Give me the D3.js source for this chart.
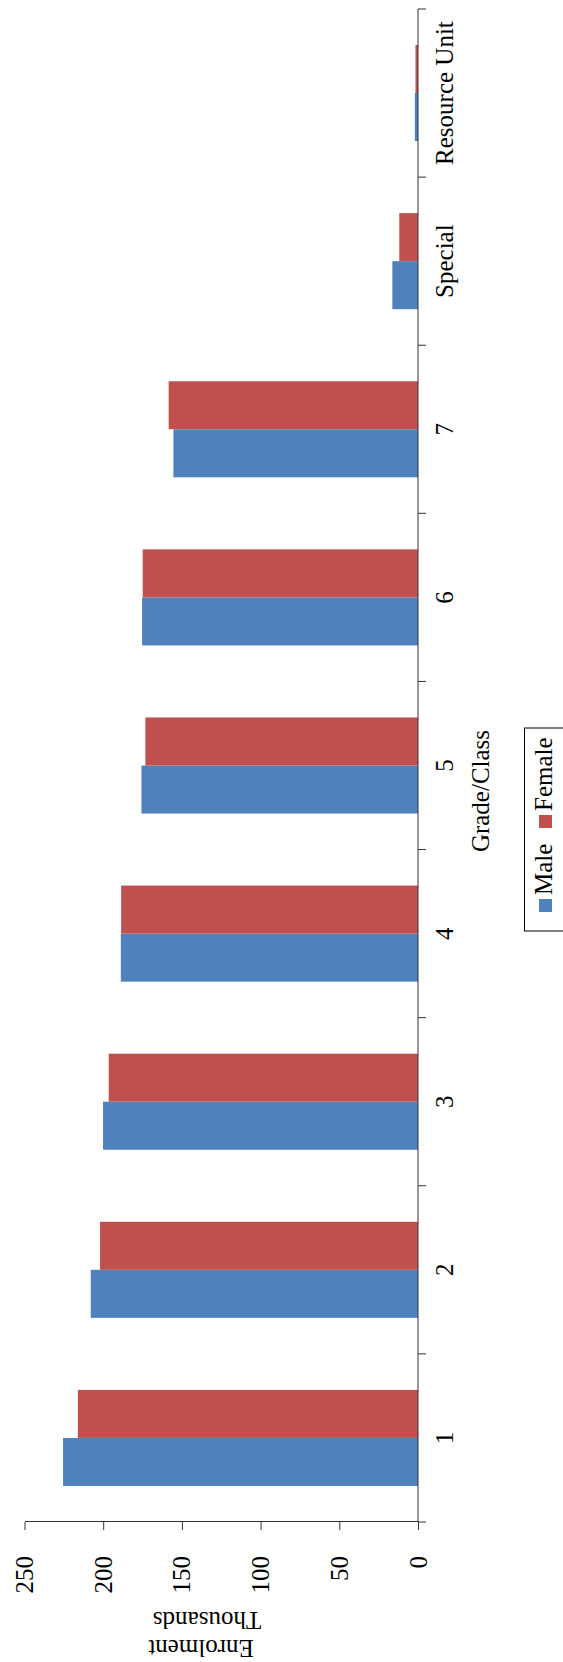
<!DOCTYPE html>
<html><head><meta charset="utf-8">
<script src="https://cdn.jsdelivr.net/npm/d3@7"></script>
<style>body{margin:0;background:#fff}svg{display:block}</style>
</head><body>
<script>
const categories = ["1","2","3","4","5","6","7","Special","Resource Unit"];
const seriesNames = ["Male","Female"];
const maleValues = [225.5, 207.9, 200.1, 188.8, 175.7, 175.3, 155.4, 16.3, 2.0];
const femaleValues = [216.1, 202.0, 196.5, 188.6, 173.2, 174.9, 158.4, 11.9, 1.6];
const valueTicks = [0, 50, 100, 150, 200, 250];
const colors = ["#4F81BD", "#C0504D"];

const W = 563, H = 1662;
const font = "'Liberation Serif','Times New Roman',serif";
const fs = 25;
const axisColor = "#333";

const svg = d3.select("body").append("svg").attr("width", W).attr("height", H);
// chart is laid out as an ordinary column chart (width H, height W), then rotated
const g = svg.append("g").attr("transform", `translate(0,${H}) rotate(-90)`);

const x0 = d3.scaleBand().domain(categories).range([140, 1653]).padding(0);
const x1 = d3.scaleBand().domain(seriesNames).range([0, x0.bandwidth()]).paddingInner(0).paddingOuter(0.75);
const y = d3.scaleLinear().domain([0, 250]).range([418, 24.5]);

const rows = categories.map((c, i) => ({c, vals: [maleValues[i], femaleValues[i]]}));

// bars
const groups = g.selectAll("g.cat").data(rows).join("g").attr("class", "cat")
  .attr("transform", d => `translate(${x0(d.c)},0)`);
groups.selectAll("rect").data(d => d.vals.map((v, k) => ({s: seriesNames[k], v, k})))
  .join("rect")
  .attr("x", d => x1(d.s))
  .attr("width", x1.bandwidth())
  .attr("y", d => y(d.v))
  .attr("height", d => y(0) - y(d.v))
  .attr("fill", d => colors[d.k]);

// value axis
const yAxis = d3.axisLeft(y).tickValues(valueTicks).tickSize(8).tickSizeOuter(0).tickPadding(26);
const ya = g.append("g").attr("transform", `translate(${x0.range()[0]},0)`).call(yAxis);
ya.select(".domain").attr("stroke", axisColor);
ya.selectAll(".tick line").attr("stroke", axisColor);
ya.selectAll(".tick text").attr("font-family", font).attr("font-size", fs).attr("fill", "#000");

// category axis
const base = y(0);
g.append("line").attr("x1", x0.range()[0]).attr("x2", x0.range()[1])
  .attr("y1", base).attr("y2", base).attr("stroke", axisColor);
const bounds = categories.map(c => x0(c)).concat([x0.range()[1]]);
g.selectAll("line.ctick").data(bounds).join("line").attr("class", "ctick")
  .attr("x1", d => d).attr("x2", d => d).attr("y1", base).attr("y2", base + 8)
  .attr("stroke", axisColor);
g.selectAll("text.clab").data(categories).join("text").attr("class", "clab")
  .attr("x", d => x0(d) + x0.bandwidth() / 2).attr("y", 453)
  .attr("text-anchor", "middle").attr("font-family", font).attr("font-size", fs)
  .text(d => d);

// titles
g.append("text").attr("transform", "translate(50,207) rotate(-90)")
  .attr("text-anchor", "middle").attr("font-family", font).attr("font-size", fs).text("Thousands");
g.append("text").attr("transform", "translate(22,201) rotate(-90)")
  .attr("text-anchor", "middle").attr("font-family", font).attr("font-size", fs).text("Enrolment");
g.append("text").attr("x", 871).attr("y", 489)
  .attr("text-anchor", "middle").attr("font-family", font).attr("font-size", fs).text("Grade/Class");

// legend
const leg = g.append("g");
leg.append("rect").attr("x", 731).attr("y", 524.5).attr("width", 203).attr("height", 60)
  .attr("fill", "none").attr("stroke", "#000");
const itemX = [750, 834];
seriesNames.forEach((s, k) => {
  leg.append("rect").attr("x", itemX[k]).attr("y", 539).attr("width", 13).attr("height", 13).attr("fill", colors[k]);
  leg.append("text").attr("x", itemX[k] + 17).attr("y", 552).attr("font-family", font).attr("font-size", fs).text(s);
});
</script>
</body></html>
